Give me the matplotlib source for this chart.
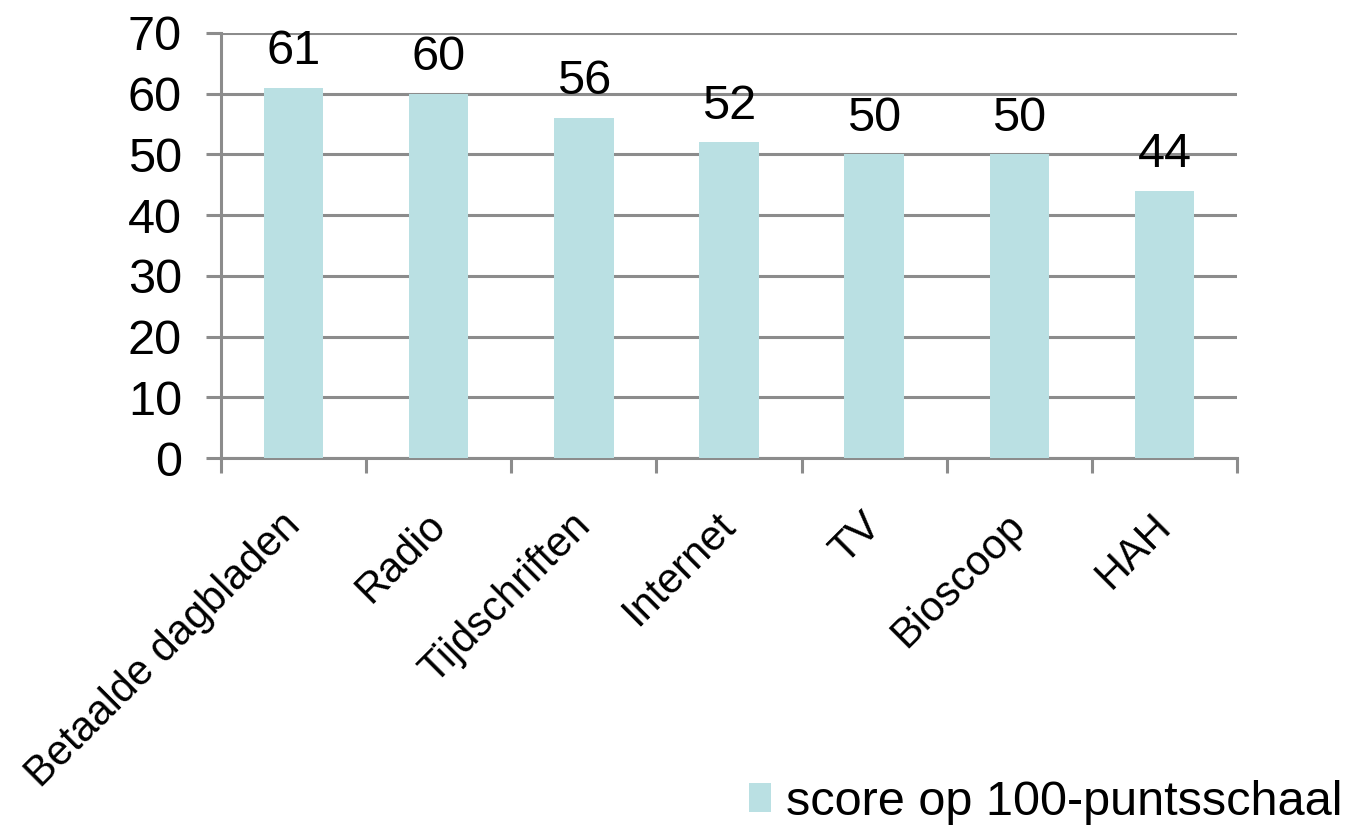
import matplotlib
matplotlib.use("Agg")
import matplotlib.pyplot as plt
from matplotlib.patches import Patch

categories = ["Betaalde dagbladen", "Radio", "Tijdschriften", "Internet", "TV", "Bioscoop", "HAH"]
scores = [61, 60, 56, 52, 50, 50, 44]
series_name = "score op 100-puntsschaal"
y_ticks = [0, 10, 20, 30, 40, 50, 60, 70]

plt.rcParams["font.family"] = ["Liberation Sans", "DejaVu Sans"]

bar_color = "#BAE0E3"
grid_color = "#8C8C8C"
FS = 35
CAT_FS = 30

fig = plt.figure(figsize=(13.55, 8.25), dpi=100)
ax = fig.add_axes([0.1631, 0.4448, 0.7498, 0.5152])

x = list(range(len(categories)))
bars = ax.bar(x, scores, width=0.41, color=bar_color, zorder=3)

ax.set_xlim(-0.5, len(categories) - 0.5)
ax.set_ylim(0, 70)
ax.set_yticks(y_ticks)
ax.set_yticklabels([str(v) for v in y_ticks], fontsize=FS)
ax.yaxis.grid(True, color=grid_color, linewidth=2.2, zorder=0)
ax.set_axisbelow(True)

for side in ("top", "right"):
    ax.spines[side].set_visible(False)
for side in ("left", "bottom"):
    ax.spines[side].set_color(grid_color)
    ax.spines[side].set_linewidth(2.2)

ax.tick_params(axis="y", length=11, width=2.2, color=grid_color, pad=17)

# category boundaries carry the x tick marks; names sit under each bar
ax.set_xticks([i - 0.5 for i in range(len(categories) + 1)])
ax.set_xticklabels([])
ax.tick_params(axis="x", length=11, width=2.2, color=grid_color)
for i, name in enumerate(categories):
    ax.annotate(name, xy=(i, 0), xycoords="data",
                xytext=(6, -50), textcoords="offset points",
                rotation=45, rotation_mode="anchor", ha="right", va="baseline",
                fontsize=CAT_FS, annotation_clip=False)

for rect, val in zip(bars, scores):
    ax.annotate(str(val), xy=(rect.get_x() + rect.get_width() / 2, val),
                xytext=(0, 17), textcoords="offset points",
                ha="center", va="baseline", fontsize=FS)

handle = Patch(facecolor=bar_color, edgecolor="none")
fig.legend([handle], [series_name], loc="lower right",
           bbox_to_anchor=(1342 / 1355, 0.0), frameon=False, fontsize=FS,
           handlelength=0.45, handleheight=0.55, handletextpad=0.3,
           borderpad=0.0, borderaxespad=0.0)

fig.savefig("out.png", dpi=100)
